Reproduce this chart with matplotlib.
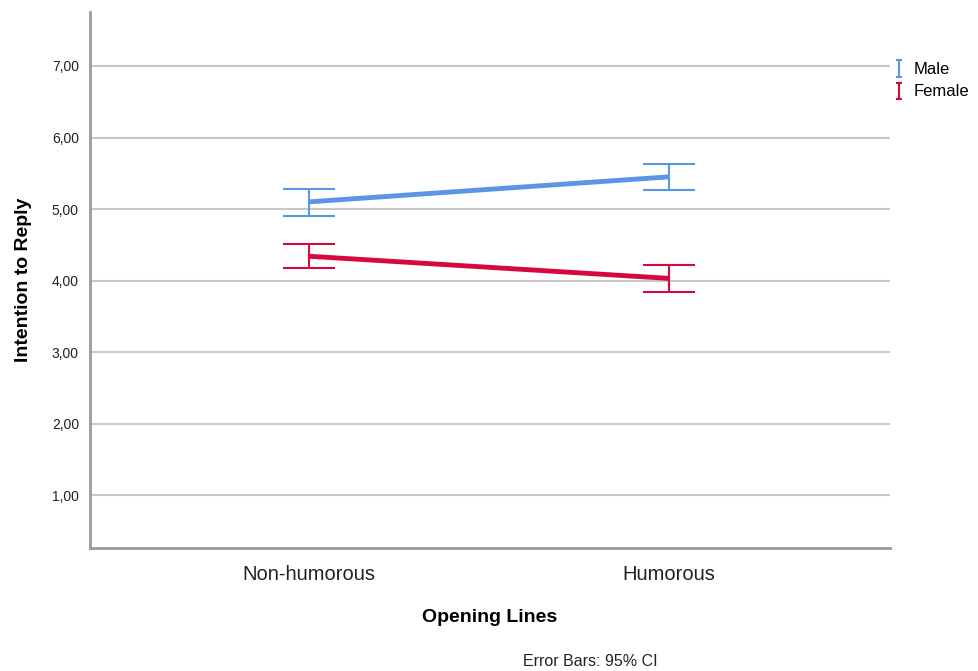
import matplotlib
matplotlib.use("Agg")
import matplotlib.pyplot as plt
from matplotlib.ticker import FixedLocator, FuncFormatter

plt.rcParams['font.family'] = ['Liberation Sans', 'DejaVu Sans']

categories = ["Non-humorous", "Humorous"]
groups = ["Male", "Female"]
means = {"Male": [5.10, 5.45], "Female": [4.34, 4.03]}
ci_low = {"Male": [4.90, 5.27], "Female": [4.17, 3.84]}
ci_high = {"Male": [5.28, 5.63], "Female": [4.51, 4.22]}
colors = {"Male": "#5a96e3", "Female": "#d6093f"}
yticks = [1, 2, 3, 4, 5, 6, 7]

fig = plt.figure(figsize=(9.79, 6.71), dpi=100)
W, H = 979, 671
ax = fig.add_axes([90 / W, (H - 548) / H, 800 / W, 536 / H])

x = list(range(len(categories)))
for g in groups:
    m = means[g]
    lo = [m[i] - ci_low[g][i] for i in range(len(m))]
    hi = [ci_high[g][i] - m[i] for i in range(len(m))]
    ax.plot(x, m, color=colors[g], lw=3.5, solid_capstyle='butt', zorder=3)
    ax.errorbar(x, m, yerr=[lo, hi], fmt='none', ecolor=colors[g],
                elinewidth=1.5, capsize=19, capthick=1.5, zorder=3)

ax.set_xlim(-0.608, 1.614)
ax.set_ylim(0.26, 7.755)
ax.yaxis.set_major_locator(FixedLocator(yticks))
ax.yaxis.set_major_formatter(FuncFormatter(lambda v, p: f"{v:.2f}".replace('.', ',')))
ax.set_xticks(x)
ax.set_xticklabels(categories, fontsize=14.5, color='#222222')
ax.tick_params(axis='y', length=0, labelsize=10, pad=8, colors='#222222')
ax.tick_params(axis='x', length=0, pad=12)
ax.grid(axis='y', color='#c8c8c8', lw=1.5)
ax.set_axisbelow(True)
for s in ['top', 'right']:
    ax.spines[s].set_visible(False)
for s in ['left', 'bottom']:
    ax.spines[s].set_color('#9a9a9a')
    ax.spines[s].set_linewidth(2)

ax.set_ylabel("Intention to Reply", fontsize=14, fontweight='bold', labelpad=14)
fig.text(490 / W, 1 - 617 / H, "Opening Lines", fontsize=14, fontweight='bold',
         ha='center', va='center')
fig.text(590 / W, 1 - 661 / H, "Error Bars: 95% CI", fontsize=11.5,
         ha='center', va='center', color='#222222')

handles = []
for g in groups:
    h = ax.errorbar([float('nan')], [float('nan')], yerr=[[0.1], [0.1]], fmt='none',
                    ecolor=colors[g], elinewidth=1.5, capsize=2, capthick=1.5, label=g)
    handles.append(h)
fig.legend(handles=handles, labels=groups, loc='upper left',
           bbox_to_anchor=(895 / W, 1 - 62 / H), frameon=False, fontsize=12,
           handlelength=0.5, handleheight=0.6, handletextpad=0.6, labelspacing=0.45,
           borderaxespad=0, borderpad=0)

fig.savefig("out.png", dpi=100)
